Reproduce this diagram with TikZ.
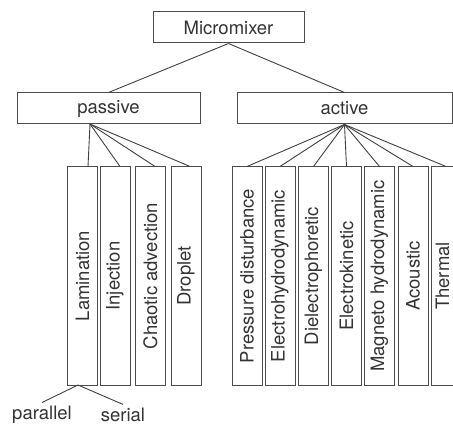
\documentclass[tikz,border=0pt]{standalone}
\usepackage{fontspec}
\setmainfont{TeX Gyre Heros}
\usepackage{tikz}
\usetikzlibrary{positioning}

\begin{document}
\begin{tikzpicture}[x=1pt,y=-1pt,
	every node/.style={font=\fontsize{18.5}{20}\selectfont, text=black!80},
	box/.style={draw=black!70, line width=1pt, inner sep=0pt, minimum height=31pt},
	col/.style={draw=black!70, line width=1pt, inner sep=0pt, minimum width=30pt, minimum height=218pt},
	link/.style={draw=black!75, line width=0.9pt}]
	\useasboundingbox (0,0) rectangle (453,425);
	\clip (0,0) rectangle (453,425);
	% top levels
	\node[box, minimum width=151pt] at (228.5,27.5) (mix) {Micromixer};
	\node[box, minimum width=183pt] at (108.5,108.5) (passive) {passive};
	\node[box, minimum width=215pt] at (344.5,108.5) (active) {active};
	\draw[link] (mix.south)--(passive.north);
	\draw[link] (mix.south)--(active.north);
	% passive
	\coordinate (pb) at (90,124);
	\node[col] at (82.5,276) (lam) {\rotatebox{90}{Lamination}};
	\node[col] at (115,276) (inj) {\rotatebox{90}{Injection}};
	\node[col] at (150.5,276) (cha) {\rotatebox{90}{Chaotic advection}};
	\node[col] at (186,276) (dro) {\rotatebox{90}{Droplet}};
	\foreach \c/\d in {lam/5.5, inj/5, cha/4.5, dro/4}
		\draw[link] (pb)--([xshift=\d pt]\c.north);
	% lamination types
	\coordinate (lb) at (78,385);
	\node[inner sep=1pt] at (42,414.5) (par) {parallel};
	\node[inner sep=1pt] at (123,414.5) (ser) {serial};
	\draw[link] (lb)--([yshift=2pt]par.north);
	\draw[link] (lb)--([yshift=2pt]ser.north);
	% active
	\node[col] at (247,276) (pre) {\rotatebox{90}{Pressure disturbance}};
	\node[col] at (280,276) (ehd) {\rotatebox{90}{Electrohydrodynamic}};
	\node[col] at (313.5,276) (dep) {\rotatebox{90}{Dielectrophoretic}};
	\node[col] at (346.5,276) (ek) {\rotatebox{90}{Electrokinetic}};
	\node[col] at (379.5,276) (mhd) {\rotatebox{90}{Magneto hydrodynamic}};
	\node[col] at (413,276) (aco) {\rotatebox{90}{Acoustic}};
	\node[col] at (446,276) (the) {\hspace*{-7pt}\rotatebox{90}{Thermal}};
	\foreach \c in {pre,ehd,dep,ek,mhd,aco,the}
		\draw[link] (active.south)--(\c.north);
\end{tikzpicture}
\end{document}
